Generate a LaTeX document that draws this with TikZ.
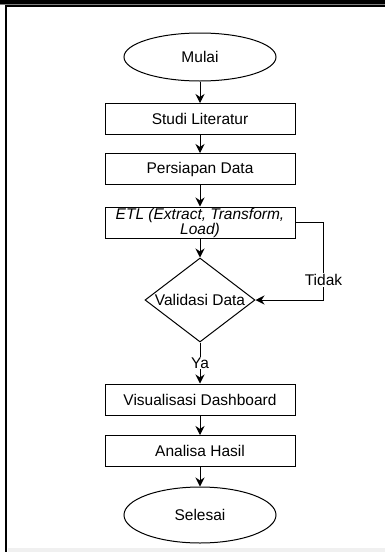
\documentclass[tikz,border=0pt]{standalone}
\usepackage{fontspec}
\setmainfont{Liberation Sans}
\usetikzlibrary{shapes.geometric,arrows.meta}
\newlength{\du}
\setlength{\du}{1pt}
\definecolor{dialinecolor}{rgb}{0.000000, 0.000000, 0.000000}
\definecolor{bingkaigray}{rgb}{0.940000, 0.940000, 0.940000}
\tikzset{
  teks/.style={font=\fontsize{15.5}{15}\selectfont, text=dialinecolor},
  prosesbox/.style={teks, draw=dialinecolor, line width=1\du, rectangle, minimum width=190\du, minimum height=31\du, inner sep=0pt, align=center},
  terminal/.style={teks, draw=dialinecolor, line width=1\du, ellipse, minimum width=152\du, minimum height=48\du, inner sep=0pt},
  keputusan/.style={draw=dialinecolor, line width=1\du, diamond, minimum width=110\du, minimum height=84\du, inner sep=0pt},
  alur/.style={draw=dialinecolor, line width=1\du, -{Stealth[length=9pt,width=9pt]}},
  labelalur/.style={teks, fill=white, inner sep=1\du},
}
\begin{document}
\begin{tikzpicture}
\pgftransformxscale{1.000000}
\pgftransformyscale{-1.000000}
\useasboundingbox (0\du,0\du) rectangle (385\du,552\du);
% bingkai tangkapan layar
\fill[black] (0\du,0\du) rectangle (385\du,4\du);
\draw[gray, line width=1\du] (0\du,4.5\du) -- (385\du,4.5\du);
\fill[bingkaigray] (8\du,548\du) rectangle (385\du,552\du);
\draw[black, line width=2\du] (6\du,552\du) -- (6\du,6\du) -- (385\du,6\du);
% langkah
\node[terminal] (mulai) at (200\du,57\du) {Mulai};
\node[prosesbox] (studi) at (200\du,119\du) {Studi Literatur};
\node[prosesbox] (persiapan) at (200\du,169\du) {Persiapan Data};
\node[prosesbox] (etl) at (200\du,222.5\du) {\itshape ETL (Extract, Transform,\\\itshape Load)};
\node[keputusan, label={[teks]center:Validasi Data}] (validasi) at (200\du,300\du) {};
\node[prosesbox] (visual) at (200\du,399.5\du) {Visualisasi Dashboard};
\node[prosesbox] (analisa) at (200\du,451\du) {Analisa Hasil};
\node[terminal, minimum height=56\du] (selesai) at (200\du,515\du) {Selesai};
% panah
\draw[alur] (mulai) -- (studi);
\draw[alur] (studi) -- (persiapan);
\draw[alur] (persiapan) -- (etl);
\draw[alur] (etl) -- (validasi);
\draw[alur] (validasi) -- node[labelalur] (ya) {Ya} (visual);
\draw[alur] (etl.east) -- ++(28\du,0\du) |- node[labelalur, pos=0.37] (tidak) {Tidak} (validasi.east);
\draw[alur] (visual) -- (analisa);
\draw[alur] (analisa) -- (selesai);
\end{tikzpicture}
\end{document}
